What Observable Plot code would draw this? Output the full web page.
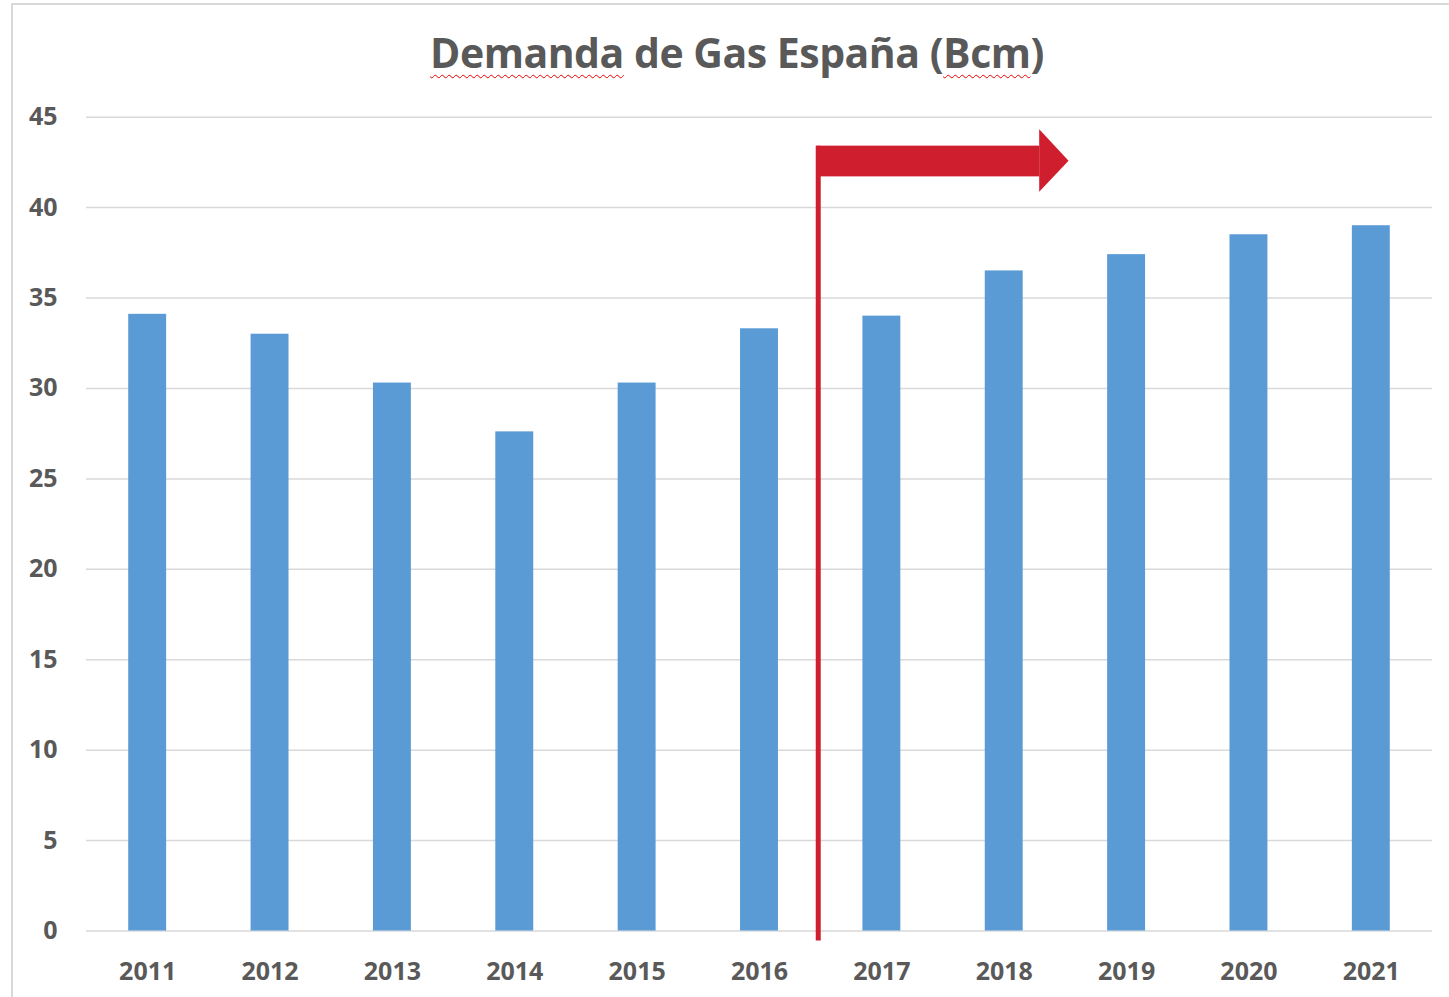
<!DOCTYPE html>
<html>
<head>
<meta charset="utf-8">
<script src="https://cdn.jsdelivr.net/npm/d3@7"></script>
<script src="https://cdn.jsdelivr.net/npm/@observablehq/plot@0.6"></script>
<style>
  html, body { margin: 0; padding: 0; background: #fff; }
  #wrap { position: relative; width: 1449px; height: 997px; overflow: hidden; }
  #frame { position: absolute; left: 11px; top: 3px; width: 1440px; height: 1000px;
           border-left: 2px solid #d9d9d9; border-top: 2px solid #d9d9d9; }
  #title { position: absolute; left: 237px; width: 1000px; top: 32px; text-align: center;
           font-family: "Open Sans", Lato, sans-serif; font-weight: bold; font-size: 41px;
           letter-spacing: -0.5px; line-height: 1; color: #595959; }
  .sp { text-decoration-line: underline; text-decoration-style: wavy; text-decoration-color: #e00;
        text-decoration-thickness: 1px; text-underline-offset: 6px; }
  #chart { position: absolute; left: 0; top: 0; }
</style>
</head>
<body>
<div id="wrap">
  <div id="frame"></div>
  <div id="chart"></div>
  <div id="title"><span class="sp">Demanda</span> de Gas España (<span class="sp">Bcm</span>)</div>
</div>
<script>
const years = [2011, 2012, 2013, 2014, 2015, 2016, 2017, 2018, 2019, 2020, 2021];
const demand = [34.1, 33.0, 30.3, 27.6, 30.3, 33.3, 34.0, 36.5, 37.4, 38.5, 39.0];
const yTicks = [0, 5, 10, 15, 20, 25, 30, 35, 40, 45];

// annotation (in data units): divider between 2016 and 2017 with arrow to the right
const dividerX = [2016.48];
const dividerY = [-0.55, 43.4];
const shaftX = [2016.47, 2018.29];
const shaftY = [41.7, 43.4];
const headX = [2018.29, 2018.53];
const headY = [40.85, 44.3, 42.56];

const halfBar = 0.155;
const data = years.map((y, i) => ({year: y, value: demand[i]}));
const red = "#CF1F2E";

const chart = Plot.plot({
  width: 1449,
  height: 997,
  marginLeft: 86,
  marginRight: 17,
  marginTop: 116.7,
  marginBottom: 66.5,
  style: {fontFamily: "'Open Sans', Lato, sans-serif", color: "#595959", background: "transparent", overflow: "visible"},
  x: {type: "linear", domain: [2010.5, 2021.5], axis: null},
  y: {domain: [0, 45], axis: null},
  marks: [
    Plot.gridY(yTicks, {stroke: "#d9d9d9", strokeOpacity: 1, strokeWidth: 1.5}),
    Plot.rect(data, {x1: d => d.year - halfBar, x2: d => d.year + halfBar, y1: 0, y2: "value", fill: "#5B9BD5"}),
    Plot.ruleX(dividerX, {y1: dividerY[0], y2: dividerY[1], stroke: red, strokeWidth: 5}),
    Plot.rect([0], {x1: shaftX[0], x2: shaftX[1], y1: shaftY[0], y2: shaftY[1], fill: red}),
    Plot.areaY([
      {x: headX[0], y1: headY[0], y2: headY[1]},
      {x: headX[1], y1: headY[2], y2: headY[2]}
    ], {x: "x", y1: "y1", y2: "y2", fill: red, curve: "linear"}),
    Plot.axisY(yTicks, {tickSize: 0, tickPadding: 29, fontSize: 25, fontWeight: "bold", fill: "#595959", label: null}),
    Plot.axisX(years, {tickSize: 0, tickPadding: 31, fontSize: 25, fontWeight: "bold", fill: "#595959", label: null, tickFormat: d => String(d)})
  ]
});
document.getElementById("chart").appendChild(chart);
</script>
</body>
</html>
